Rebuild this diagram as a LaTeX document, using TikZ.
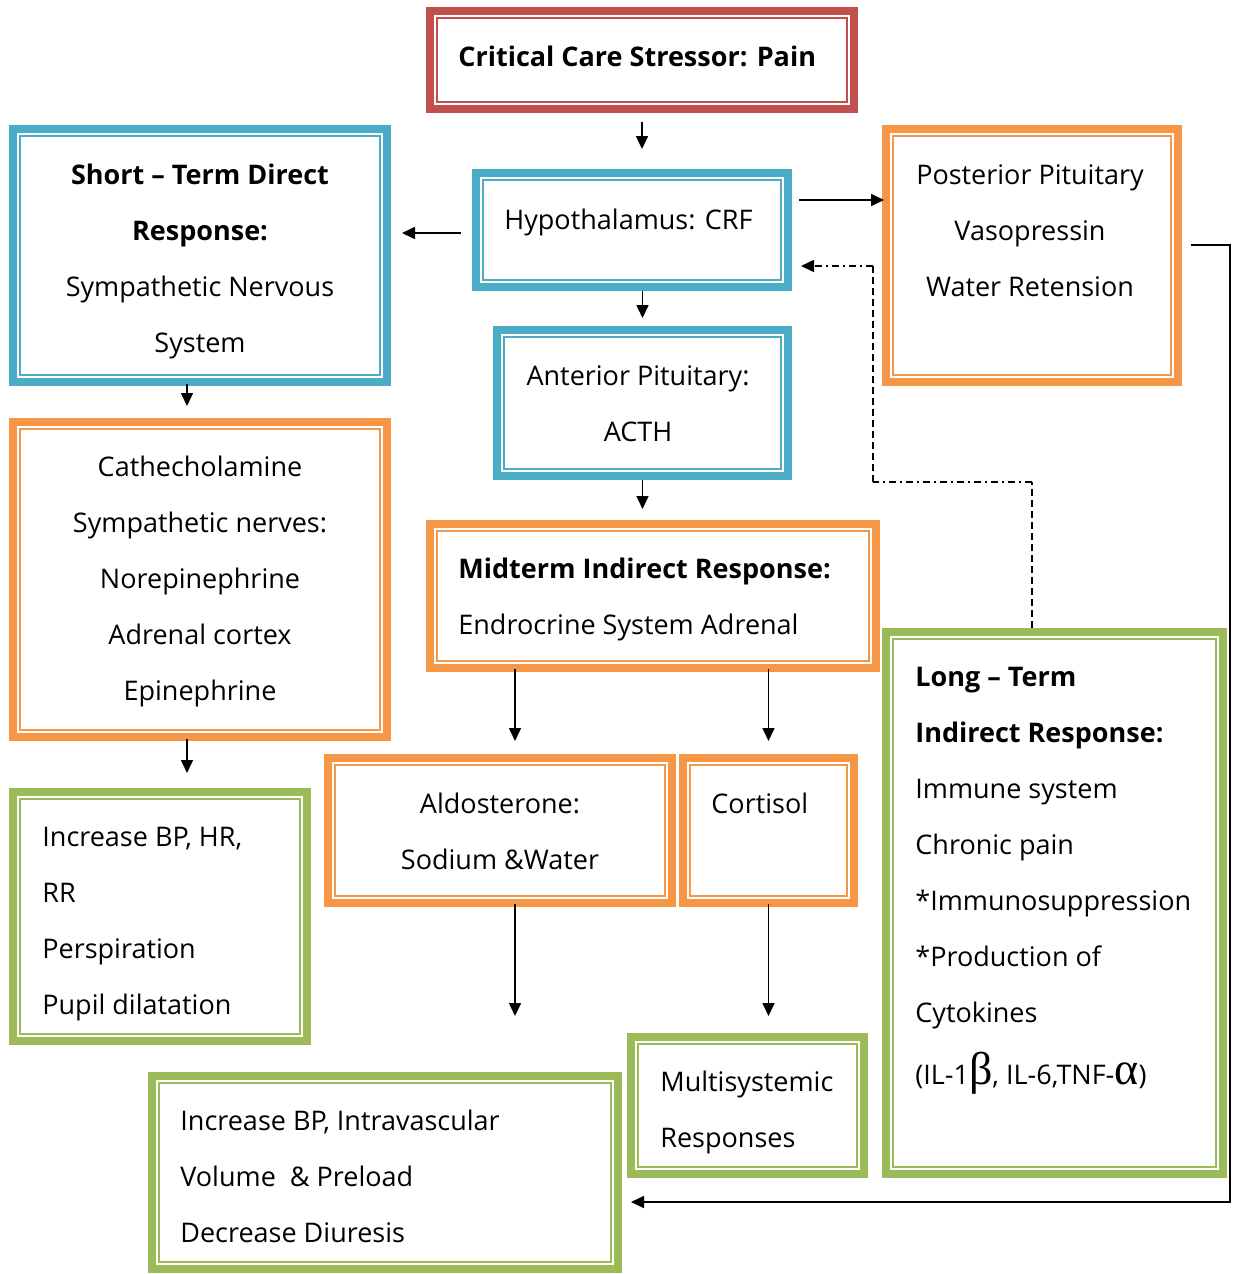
\documentclass[tikz,border=0pt]{standalone}
\usepackage{fontspec}
\setmainfont{Open Sans}
\newfontfamily\greekfont{Liberation Serif}
\usetikzlibrary{arrows.meta}

\definecolor{cRed}{HTML}{C0504D}
\definecolor{cBlue}{HTML}{4BACC6}
\definecolor{cOrange}{HTML}{F79646}
\definecolor{cGreen}{HTML}{9BBB59}

% thin second frame inside the thick one
\newcommand\innerline[1]{\draw[#1, line width=1pt] ([shift={(3.7pt,3.7pt)}]path picture bounding box.south west) rectangle ([shift={(-3.7pt,-3.7pt)}]path picture bounding box.north east);}
\newcommand\bigGreek[1]{{\greekfont\fontsize{23}{23}\selectfont #1}}

\begin{document}
\begin{tikzpicture}[x=0.5pt,y=-0.5pt]

\tikzstyle{box}=[rectangle,line width=4pt,inner sep=0pt]
\tikzstyle{redBox}=[box, draw=cRed, path picture={\innerline{cRed}}]
\tikzstyle{blueBox}=[box, draw=cBlue, path picture={\innerline{cBlue}}]
\tikzstyle{orangeBox}=[box, draw=cOrange, path picture={\innerline{cOrange}}]
\tikzstyle{greenBox}=[box, draw=cGreen, path picture={\innerline{cGreen}}]
\tikzstyle{txt}=[inner sep=0pt, font=\fontsize{13.5}{28}\selectfont]
\tikzstyle{arr}=[-{Triangle[length=6.5pt,width=6pt]}, line width=0.8pt]
\tikzstyle{fbDash}=[line width=0.8pt, dash pattern=on 3.5pt off 2pt]
\tikzstyle{fbDot}=[line width=0.8pt, dash pattern=on 3.5pt off 2pt on 1pt off 2pt]

\useasboundingbox (0,0) rectangle (1237,1274);

%frames
\node[redBox, minimum width=212pt, minimum height=49pt] (pain) at (642,60) {};
\node[blueBox, minimum width=156pt, minimum height=57pt] (hypo) at (632,230) {};
\node[blueBox, minimum width=187pt, minimum height=126.5pt] (short) at (200,255.5) {};
\node[orangeBox, minimum width=146pt, minimum height=126.5pt] (post) at (1032,255.5) {};
\node[blueBox, minimum width=145.5pt, minimum height=73pt] (ant) at (642.5,403) {};
\node[orangeBox, minimum width=187pt, minimum height=157.5pt] (cath) at (200,579.5) {};
\node[orangeBox, minimum width=223pt, minimum height=72pt] (mid) at (653,596) {};
\node[greenBox, minimum width=168.5pt, minimum height=271pt] (long) at (1054.5,903) {};
\node[greenBox, minimum width=147pt, minimum height=124.5pt] (incHR) at (160,916.5) {};
\node[orangeBox, minimum width=172pt, minimum height=72.5pt] (aldo) at (500,830.5) {};
\node[orangeBox, minimum width=85.5pt, minimum height=72.5pt] (cort) at (768.5,830.5) {};
\node[greenBox, minimum width=116.5pt, minimum height=68.5pt] (multi) at (747.5,1105.5) {};
\node[greenBox, minimum width=233pt, minimum height=96.5pt] (incBP) at (385,1172.5) {};

%texts
\node[txt, anchor=north west] (painText) at (458,46) {\textbf{Critical Care Stressor: Pain}};
\node[txt, anchor=north west] (hypoText) at (504,209) {Hypothalamus: CRF};
\node[txt, anchor=north, align=center] (shortText) at (200,164) {\textbf{Short – Term Direct}\\\textbf{Response:}\\Sympathetic Nervous\\System};
\node[txt, anchor=north, align=center] (postText) at (1030,164) {Posterior Pituitary\\Vasopressin\\Water Retension};
\node[txt, anchor=north, align=center] (antText) at (638,365) {Anterior Pituitary:\\ACTH};
\node[txt, anchor=north, align=center] (cathText) at (200,456) {Cathecholamine\\Sympathetic nerves:\\Norepinephrine\\Adrenal cortex\\Epinephrine};
\node[txt, anchor=north west, align=left] (midText) at (458,558) {\textbf{Midterm Indirect Response:}\\Endrocrine System Adrenal};
\node[txt, anchor=north west, align=left] (longText) at (915,667) {\textbf{Long – Term}\\\textbf{Indirect Response:}\\Immune system\\Chronic pain\\*Immunosuppression\\*Production of\\Cytokines\\[3pt](IL-1\bigGreek{β}, IL-6,TNF-\bigGreek{α})};
\node[txt, anchor=north west, align=left] (incHRText) at (42,827) {Increase BP, HR,\\RR\\Perspiration\\Pupil dilatation};
\node[txt, anchor=north, align=center] (aldoText) at (500,793) {Aldosterone:\\Sodium \&Water};
\node[txt, anchor=north west] (cortText) at (711,793) {Cortisol};
\node[txt, anchor=north west, align=left] (multiText) at (660,1071) {Multisystemic\\Responses};
\node[txt, anchor=north west, align=left] (incBPText) at (180,1110) {Increase BP, Intravascular\\Volume~~\& Preload\\Decrease Diuresis};

%arrows
\draw[arr, shorten <=4.5pt, shorten >=10pt] (pain.south) -- (pain.south |- hypo.north);
\draw[arr, shorten <=5.5pt, shorten >=5.5pt] ([yshift=-1.5pt]hypo.west) -- ([yshift=-1.5pt]hypo.west -| short.east);
\draw[arr, shorten <=3.5pt, shorten >=-1pt] ([yshift=15pt]hypo.east) -- ([yshift=15pt]hypo.east -| post.west);
\draw[arr, shorten >=4pt] (ant.north |- hypo.south) -- (ant.north);
\draw[arr, shorten >=5.5pt] (ant.south) -- (ant.south |- mid.north);
\draw[arr, shorten <=-1pt, shorten >=6pt] ([xshift=-6.5pt]short.south) -- ([xshift=-6.5pt]short.south |- cath.north);
\draw[arr, shorten <=-1pt, shorten >=7.5pt] ([xshift=-6.5pt]cath.south) -- ([xshift=-6.5pt]cath.south |- incHR.north);
\draw[arr, shorten <=-1.5pt, shorten >=6.5pt] ([xshift=7.5pt]aldo.north |- mid.south) -- ([xshift=7.5pt]aldo.north);
\draw[arr, shorten <=-1.5pt, shorten >=6.5pt] (cort.north |- mid.south) -- (cort.north);
\draw[arr, shorten <=-1.5pt, shorten >=28pt] ([xshift=7.5pt]aldo.south) -- ([xshift=7.5pt]aldo.south |- incBP.north);
\draw[arr, shorten <=-1.5pt, shorten >=8.5pt] (cort.south) -- (cort.south |- multi.north);

%feedback from long term
\coordinate (fbA) at (1032,482);
\coordinate (fbB) at (873,482);
\coordinate (fbC) at (873,266);
\draw[fbDash] (long.north -| fbA) -- (fbA);
\draw[fbDot] (fbA) -- (fbB);
\draw[fbDash] (fbB) -- (fbC);
\draw[fbDot, arr, shorten >=4.5pt] (fbC) -- (fbC -| hypo.east);

%posterior pituitary to volume
\coordinate (retRight) at (1230,1202);
\draw[arr, shorten <=4.5pt, shorten >=4.5pt] ([yshift=5.25pt]post.east) -| (retRight) -- (retRight -| incBP.east);

\end{tikzpicture}
\end{document}
